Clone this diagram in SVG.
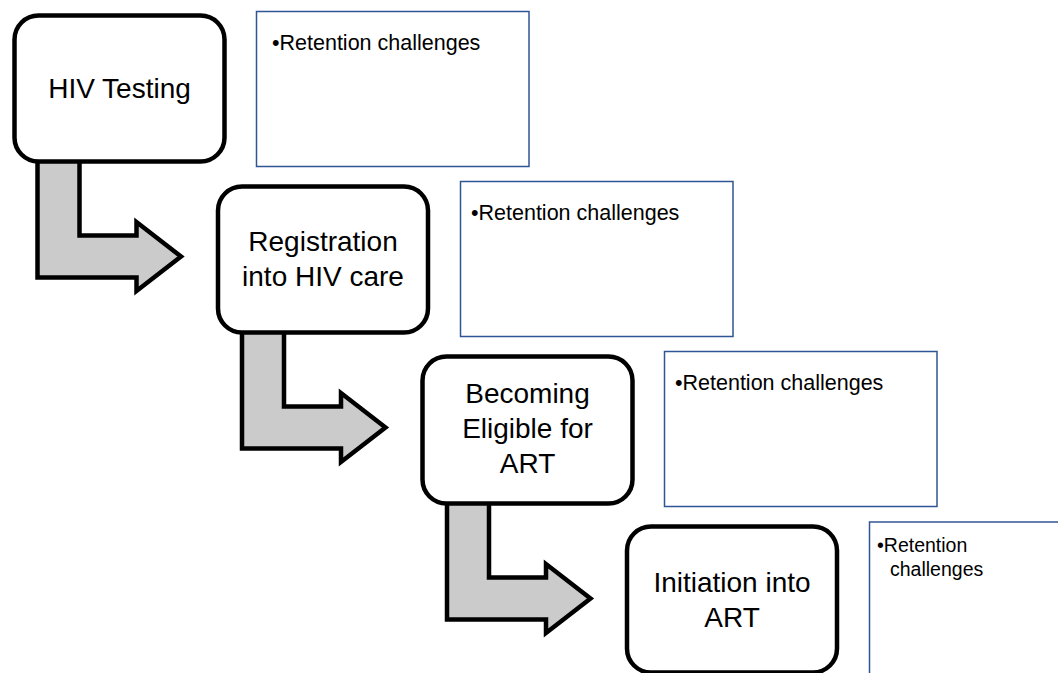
<svg xmlns="http://www.w3.org/2000/svg" width="1058" height="673" viewBox="0 0 1058 673">
<defs>
<style>
.node rect{fill:#ffffff;stroke:#000000;stroke-width:4.5}
.node text{font-family:"Liberation Sans",Arial,sans-serif;font-size:28px;fill:#000000;text-anchor:middle}
.box rect{fill:#ffffff;stroke:#2f5597;stroke-width:1.5}
.box text{font-family:"Liberation Sans",Arial,sans-serif;font-size:21.5px;fill:#000000}
.box text.small{font-size:19.5px}
.arrow{fill:#cbcbcb;stroke:#000000;stroke-width:4.5;stroke-linejoin:miter}
</style>
<polygon id="bentArrow" class="arrow" points="37.5,158 37.5,277.5 136.5,277.5 136.5,291 181,256.5 136.5,222 136.5,235.5 79.5,235.5 79.5,158"/>
</defs>
<rect x="0" y="0" width="1058" height="673" fill="#ffffff"/>
<g id="connectors">
<use href="#bentArrow"/>
<use href="#bentArrow" transform="translate(204.5,171)"/>
<use href="#bentArrow" transform="translate(409.5,342)"/>
</g>
<g id="node1" class="node">
<rect x="14.5" y="15.5" width="210" height="146" rx="24"/>
<text x="119.5" y="98">HIV Testing</text>
</g>
<g id="node2" class="node">
<rect x="218" y="186.5" width="210" height="146" rx="24"/>
<text x="323" y="251">Registration</text>
<text x="323" y="286">into HIV care</text>
</g>
<g id="node3" class="node">
<rect x="422.5" y="356.5" width="210" height="147" rx="24"/>
<text x="527.5" y="403">Becoming</text>
<text x="527.5" y="438">Eligible for</text>
<text x="527.5" y="473">ART</text>
</g>
<g id="node4" class="node">
<rect x="627" y="526.5" width="210" height="146" rx="24"/>
<text x="732" y="592">Initiation into</text>
<text x="732" y="627">ART</text>
</g>
<g id="box1" class="box">
<rect x="256.5" y="11.5" width="272.5" height="155"/>
<text x="272" y="50">•Retention challenges</text>
</g>
<g id="box2" class="box">
<rect x="460.5" y="181.5" width="272.5" height="155"/>
<text x="471" y="220">•Retention challenges</text>
</g>
<g id="box3" class="box">
<rect x="664.5" y="351.5" width="272.5" height="155"/>
<text x="675" y="390">•Retention challenges</text>
</g>
<g id="box4" class="box">
<rect x="869.5" y="522" width="272.5" height="155"/>
<text class="small" x="877" y="552">•Retention</text>
<text class="small" x="890" y="576">challenges</text>
</g>
</svg>
